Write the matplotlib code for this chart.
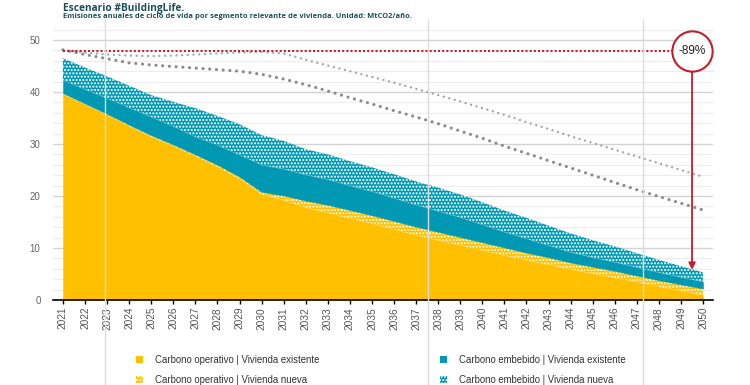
import matplotlib
matplotlib.use("Agg")
import matplotlib.pyplot as plt
import matplotlib.transforms as mtransforms
from matplotlib.lines import Line2D
from matplotlib.patches import Patch
import numpy as np

plt.rcParams['hatch.color'] = 'white'
plt.rcParams['hatch.linewidth'] = 1.0

years = list(range(2021, 2051))
operativo_existente = [39.6, 37.6, 35.6, 33.4, 31.4, 29.6, 27.7, 25.6, 23.3, 20.3,
                       19.2, 17.8, 16.8, 15.7, 14.7, 13.6, 12.5, 11.5, 10.5, 9.6,
                       8.6, 7.7, 6.8, 5.9, 5.1, 4.3, 3.5, 2.6, 1.8, 1.0]
operativo_nueva = [0.2, 0.2, 0.2, 0.3, 0.3, 0.3, 0.3, 0.4, 0.4, 0.5,
                   0.9, 1.3, 1.5, 1.6, 1.6, 1.6, 1.6, 1.6, 1.6, 1.5,
                   1.5, 1.4, 1.4, 1.3, 1.3, 1.3, 1.2, 1.2, 1.2, 1.2]
embebido_existente = [2.5, 2.7, 3.0, 3.3, 3.5, 3.5, 3.4, 3.8, 4.2, 5.2,
                      5.1, 5.0, 4.9, 4.7, 4.6, 4.4, 4.2, 4.0, 3.8, 3.4,
                      3.0, 2.7, 2.3, 2.0, 1.8, 1.7, 1.6, 1.5, 1.4, 1.3]
embebido_nueva = [4.2, 4.2, 4.2, 4.2, 4.2, 4.7, 5.5, 5.6, 5.9, 5.7,
                  5.4, 4.9, 4.8, 4.7, 4.6, 4.6, 4.5, 4.5, 4.4, 4.3,
                  4.1, 4.0, 3.8, 3.6, 3.3, 3.0, 2.7, 2.4, 2.1, 1.8]
escenario_a = [48.1, 47.6, 47.2, 47.0, 46.9, 47.0, 47.2, 47.4, 47.6, 47.7,
               47.4, 46.2, 45.1, 44.0, 42.9, 41.8, 40.6, 39.4, 38.2, 36.9,
               35.6, 34.2, 32.9, 31.5, 30.2, 28.9, 27.6, 26.3, 25.0, 23.7]
escenario_b = [48.1, 47.2, 46.4, 45.6, 45.2, 44.9, 44.6, 44.3, 44.0, 43.4,
               42.5, 41.4, 40.2, 38.9, 37.7, 36.4, 35.2, 33.9, 32.5, 31.1,
               29.6, 28.2, 26.8, 25.4, 24.0, 22.6, 21.2, 19.9, 18.6, 17.3]
baseline = 47.8
reduction_label = "-89%"
section_breaks = [2022.9, 2037.54, 2047.28]

labels = ["Carbono operativo | Vivienda existente",
          "Carbono operativo | Vivienda nueva",
          "Carbono embebido | Vivienda existente",
          "Carbono embebido | Vivienda nueva"]

YELLOW = '#FFC000'
TEAL = '#0098B2'
RED = '#C0202A'

fig = plt.figure(figsize=(7.5, 3.85), dpi=100)
ax = fig.add_axes([53/750, 1 - 300/385, 660/750, 278/385])

x = np.array(years)
l1 = np.array(operativo_existente)
l2 = l1 + np.array(operativo_nueva)
l3 = l2 + np.array(embebido_existente)
l4 = l3 + np.array(embebido_nueva)

ax.fill_between(x, 0, l1, facecolor=YELLOW, edgecolor=YELLOW, lw=0.3, zorder=2)
ax.fill_between(x, l1, l2, facecolor=YELLOW, edgecolor='white', hatch='.....', lw=0, zorder=2)
ax.fill_between(x, l2, l3, facecolor=TEAL, edgecolor=TEAL, lw=0.3, zorder=2)
ax.fill_between(x, l3, l4, facecolor=TEAL, edgecolor='white', hatch='.....', lw=0, zorder=2)

ax.plot(x, escenario_a, color='#A2A2A2', lw=1.7, ls=(0, (0.01, 2.4)),
        dash_capstyle='round', zorder=3)
ax.plot(x, escenario_b, color='#8C8C8C', lw=2.3, ls=(0, (0.01, 2.1)),
        dash_capstyle='round', zorder=3)

cx = 2049.5
ax.plot([years[0], cx], [baseline, baseline], color=RED, lw=1.5,
        ls=(0, (1, 1)), zorder=4)
ax.annotate('', xy=(cx, l4[-1] + 0.5), xytext=(cx, baseline - 3.8),
            arrowprops=dict(arrowstyle='-|>', color=RED, lw=1.3,
                            mutation_scale=10, shrinkA=0, shrinkB=0), zorder=5)
ax.plot([cx], [baseline], marker='o', ms=29, mfc='white', mec=RED, mew=1.5, zorder=6)
ax.text(cx, baseline, reduction_label, ha='center', va='center', fontsize=8.5,
        family='Liberation Sans', color='#222222', zorder=7)

ax.set_xlim(2020.55, 2050.45)
ax.set_ylim(0, 278/5.2)
ax.set_yticks([0, 10, 20, 30, 40, 50])
ax.set_yticks(np.arange(0, 53, 2), minor=True)
ax.set_xticks(years)
ax.set_xticklabels([str(y) for y in years], rotation=90, fontsize=7.3,
                   family='Liberation Sans', color='#555555')
ax.tick_params(axis='x', length=3, width=1, color='black', pad=2)
ax.tick_params(axis='y', which='both', length=0, pad=9, labelsize=7, labelcolor='#666666')
for t in ax.get_yticklabels():
    t.set_family('Liberation Sans')
ax.grid(axis='y', which='major', color='#D3D3D3', lw=1.0, zorder=0)
ax.grid(axis='y', which='minor', color='#EDEDED', lw=0.8, zorder=0)
ax.set_axisbelow(True)
for s in ['top', 'right', 'left']:
    ax.spines[s].set_visible(False)
ax.spines['bottom'].set_color('black')
ax.spines['bottom'].set_linewidth(1.2)
ax.spines['bottom'].set_zorder(5)

trans = mtransforms.blended_transform_factory(ax.transData, fig.transFigure)
for xb in section_breaks:
    fig.add_artist(Line2D([xb, xb], [0, 1 - 20/385], transform=trans,
                          color='#DCDCDC', lw=1.0, zorder=0.5))

fig.text(63/750, 1 - 8/385, "Escenario #BuildingLife.", fontsize=7.3,
         fontweight='bold', family='Open Sans', color='#1D4E5E', va='center')
fig.text(63/750, 1 - 17/385,
         "Emisiones anuales de ciclo de vida por segmento relevante de vivienda. Unidad: MtCO2/año.",
         fontsize=5.4, fontweight='bold', family='Open Sans', color='#1D4E5E', va='center')

h_solid_y = Patch(facecolor=YELLOW, edgecolor=YELLOW, lw=0)
h_hatch_y = Patch(facecolor=YELLOW, edgecolor='white', hatch='.....', lw=0)
h_solid_t = Patch(facecolor=TEAL, edgecolor=TEAL, lw=0)
h_hatch_t = Patch(facecolor=TEAL, edgecolor='white', hatch='.....', lw=0)

legkw = dict(frameon=False, handlelength=0.75, handleheight=0.75, handletextpad=1.2,
             labelspacing=1.0, borderpad=0, borderaxespad=0,
             prop={'family': 'Liberation Sans', 'size': 6.9})
lg1 = fig.legend([h_solid_y, h_hatch_y], labels[:2], loc='upper left',
                 bbox_to_anchor=(136/750, 1 - 355/385), **legkw)
lg2 = fig.legend([h_solid_t, h_hatch_t], labels[2:], loc='upper left',
                 bbox_to_anchor=(440/750, 1 - 355/385), **legkw)
for lg in (lg1, lg2):
    for t in lg.get_texts():
        t.set_color('#333333')

fig.savefig('out.png', dpi=100, facecolor='white')
